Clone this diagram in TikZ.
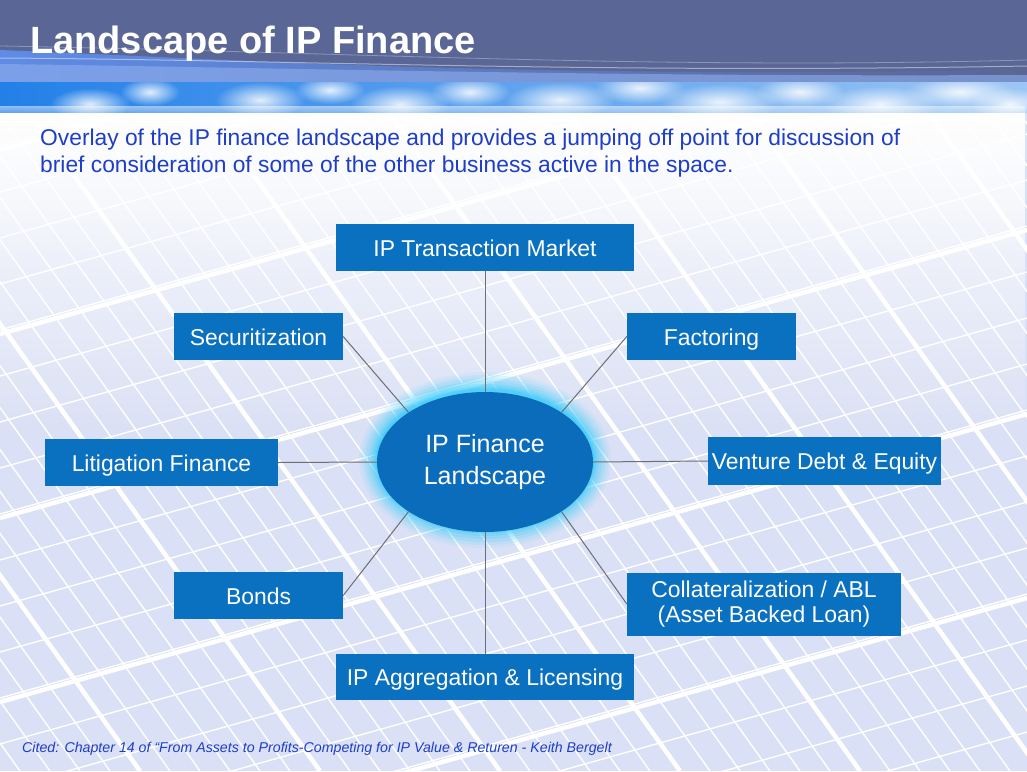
\documentclass[tikz,border=0pt]{standalone}
\usepackage{fontspec}
\setmainfont{Liberation Sans}
\usetikzlibrary{fadings,shapes.geometric}
\tikzfading[name=fadedown, top color=transparent!0, bottom color=transparent!100]
\tikzfading[name=faderight, left color=transparent!0, right color=transparent!100]
\tikzfading[name=softblob, inner color=transparent!0, outer color=transparent!100]
\definecolor{boxblue}{RGB}{10,112,192}
\definecolor{ellblue}{RGB}{12,108,188}
\definecolor{headdark}{RGB}{90,103,150}
\definecolor{headwave}{RGB}{95,140,230}
\definecolor{skyblue}{RGB}{35,128,232}
\definecolor{panelbg}{RGB}{218,224,245}
\definecolor{subblue}{RGB}{30,62,200}
\definecolor{glowcyan}{RGB}{60,205,250}
\definecolor{linkgray}{RGB}{110,110,115}
\tikzset{
  box/.style={rectangle, fill=boxblue, text=white, inner sep=0pt,
    font=\fontsize{22.9}{25.5}\selectfont, align=center},
  oneline/.style={text height=19.5pt, text depth=2.5pt},
  link/.style={draw=linkgray, line width=1pt},
  thickpanel/.style={white, line width=4.5pt},
  thinpanel/.style={white, line width=1.4pt},
  cloud/.style={white, path fading=softblob},
}
\begin{document}
\begin{tikzpicture}[x=1pt,y=-1pt]
\useasboundingbox (0,0) rectangle (1027,771);
% ---------- background ----------
\fill[panelbg] (0,0) rectangle (1027,771);
\begin{scope}
  \clip (0,100) rectangle (1027,771);
  \foreach \x in {-700,-670,...,1100} {\draw[thinpanel] (\x,100) -- ++(480,671);}
  \foreach \x in {-700,-520,...,1100} {\draw[thickpanel] (\x,100) -- ++(480,671);}
  \foreach \y in {100,146,...,1400} {\draw[thinpanel] (0,\y) -- (1027,\y-288);}
  \foreach \y in {150,334,...,1400} {\draw[thickpanel] (0,\y) -- (1027,\y-288);}
\end{scope}
\fill[white, path fading=fadedown] (0,100) rectangle (1027,440);
\fill[white, opacity=0.6, path fading=fadedown] (0,100) rectangle (1027,270);
% ---------- header ----------
\fill[headdark] (0,0) rectangle (1027,82);
\fill[headwave, path fading=faderight] (0,50) .. controls (250,60) and (500,78) .. (1027,70) -- (1027,82) -- (0,82) -- cycle;
\fill[headwave!70!white, opacity=0.6] (0,64) .. controls (300,68) and (600,77) .. (1027,75) -- (1027,82) -- (0,82) -- cycle;
\draw[white, opacity=0.45, line width=1pt] (0,58) .. controls (300,60) and (600,74) .. (1027,66);
\draw[white, opacity=0.3, line width=0.8pt] (0,46) .. controls (350,52) and (650,70) .. (1027,60);
\shade[left color=skyblue, right color=skyblue!45!white] (0,82) rectangle (1027,112);
\begin{scope}
  \clip (0,82) rectangle (1027,112);
  \foreach \cx/\cy/\rx/\ry in {90/104/40/16, 150/92/30/14, 260/100/45/18, 330/90/35/14, 400/104/50/18,
     470/92/40/15, 560/100/55/18, 640/88/45/16, 720/102/60/18, 800/92/45/16, 880/104/60/18, 960/92/55/16, 1010/104/40/16}
    {\fill[cloud, opacity=0.85] (\cx,\cy) ellipse [x radius=\rx pt, y radius=\ry pt];}
\end{scope}
\fill[white, opacity=0.5, path fading=fadedown] (0,106) rectangle (1027,120);
\node[anchor=base west, text=white, font=\bfseries\fontsize{38}{40}\selectfont, inner sep=0pt]
  (title) at (30,53) {Landscape of IP Finance};
% ---------- subtitle ----------
\node[anchor=base west, text=subblue, font=\fontsize{22.8}{27}\selectfont, inner sep=0pt, align=left]
  (sub) at (40,172) {Overlay of the IP finance landscape and provides a jumping off point for discussion of\\
  brief consideration of some of the other business active in the space.};
% ---------- glow ----------
\foreach \r/\o in {18/0.08, 15/0.11, 12/0.14, 9/0.18, 6/0.25, 3.5/0.35, 1.5/0.5}
  {\fill[glowcyan, opacity=\o] (485,460) ellipse [x radius={108pt+\r pt}, y radius={70pt+\r pt}];}
% ---------- nodes ----------
\node[ellipse, fill=ellblue, text=white, minimum width=216pt, minimum height=140pt, inner sep=0pt,
  align=center, font=\fontsize{25}{32}\selectfont] (ell) at (485,462) {IP Finance\\ Landscape};
\node[box, oneline, minimum width=298pt, minimum height=47pt] (tm)  at (485,247.5) {IP Transaction Market};
\node[box, oneline, minimum width=169pt, minimum height=47pt] (sec) at (258.5,336.5) {Securitization};
\node[box, oneline, minimum width=169pt, minimum height=47pt] (fac) at (711.5,336.5) {Factoring};
\node[box, oneline, minimum width=233pt, minimum height=47pt] (lit) at (161.5,462.5) {Litigation Finance};
\node[box, oneline, minimum width=233pt, minimum height=48pt] (ven) at (824.5,461) {Venture Debt \& Equity};
\node[box, oneline, minimum width=169pt, minimum height=47pt] (bon) at (258.5,595.5) {Bonds};
\node[box, minimum width=274pt, minimum height=63pt] (col) at (764,604) {Collateralization / ABL\\(Asset Backed Loan)};
\node[box, oneline, minimum width=298pt, minimum height=46pt] (agg) at (485,677) {IP Aggregation \& Licensing};
% ---------- connectors ----------
\draw[link] (tm.south) -- (ell.north);
\draw[link] (sec.east) -- (ell.north west);
\draw[link] (fac.west) -- (ell.north east);
\draw[link] (lit.east) -- (ell.west);
\draw[link] (ven.west) -- (ell.east);
\draw[link] (bon.east) -- (ell.south west);
\draw[link] (col.west) -- (ell.south east);
\draw[link] (agg.north) -- (ell.south);
% ---------- footer ----------
\node[anchor=base west, text=subblue, font=\itshape\fontsize{14.2}{16}\selectfont, inner sep=0pt]
  (cite) at (22,752) {Cited: Chapter 14 of “From Assets to Profits-Competing for IP Value \& Returen - Keith Bergelt};
\end{tikzpicture}
\end{document}
